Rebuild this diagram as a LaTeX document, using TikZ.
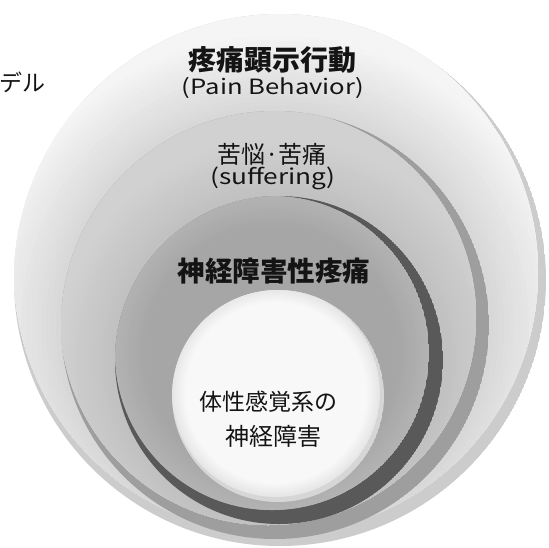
\documentclass[tikz,border=0pt]{standalone}
\usepackage{fontspec}
\setmainfont{Noto Sans CJK JP}
\newfontfamily\widelatin[FakeStretch=1.22]{Noto Sans CJK JP}
\definecolor{rimOuter}{gray}{0.80}
\definecolor{rimSuff}{gray}{0.62}
\definecolor{rimNeuro}{gray}{0.35}
\definecolor{rimInner}{gray}{0.84}
\definecolor{txt}{gray}{0.08}
\tikzset{
  lbl/.style={text=txt, inner sep=0pt, align=center},
}
\begin{document}
\begin{tikzpicture}[x=1pt,y=-1pt]
\useasboundingbox (0,0) rectangle (549,547);
\fill[white] (0,0) rectangle (549,547);
% outer circle: pain behavior
\begin{scope}
  \clip (280,280) circle[radius=266pt];
  \fill[rimOuter] (280,280) circle[radius=266pt];
  \clip (276,272) circle[radius=262pt];
  \fill[black!4] (276,272) circle[radius=262pt];
  \foreach \k in {0,...,16} {
    \pgfmathsetmacro{\rr}{214+80-5*\k}
    \pgfmathsetmacro{\gg}{4+0.75*\k}
    \fill[black!\gg] (275,325) circle[radius=\rr pt];
  }
\end{scope}
% suffering
\begin{scope}
  \clip (275,325) circle[radius=214pt];
  \fill[rimSuff] (275,325) circle[radius=214pt];
  \clip (268,317) circle[radius=208pt];
  \fill[black!18] (268,317) circle[radius=208pt];
  \foreach \k in {0,...,15} {
    \pgfmathsetmacro{\rr}{164+60-4*\k}
    \pgfmathsetmacro{\gg}{18+0.45*\k}
    \fill[black!\gg] (279,360) circle[radius=\rr pt];
  }
\end{scope}
% neuropathic pain
\begin{scope}
  \clip (279,360) circle[radius=164pt];
  \fill[rimNeuro] (279,360) circle[radius=164pt];
  \clip (272,353) circle[radius=157pt];
  \fill[black!30] (272,353) circle[radius=157pt];
  \foreach \k in {0,...,10} {
    \pgfmathsetmacro{\rr}{157-3*\k}
    \pgfmathsetmacro{\gg}{30+0.5*\k}
    \fill[black!\gg] (272,353) circle[radius=\rr pt];
  }
\end{scope}
% inner
\begin{scope}
  \clip (278,396) circle[radius=106pt];
  \fill[rimInner] (278,396) circle[radius=106pt];
  \clip (276,393) circle[radius=104pt];
  \fill[black!10] (276,393) circle[radius=104pt];
  \foreach \k in {0,...,8} {
    \pgfmathsetmacro{\rr}{103-1.5*\k}
    \pgfmathsetmacro{\gg}{9-0.8*\k}
    \fill[black!\gg] (276,393) circle[radius=\rr pt];
  }
\end{scope}
% texts
\node[lbl, anchor=west, font=\fontsize{23}{26}\selectfont] (model) at (-1,82) {デル};
\node[lbl, font=\fontsize{28}{32}\selectfont\bfseries] (pb) at (272,60) {疼痛顕示行動};
\node[lbl, font=\widelatin\fontsize{21}{24}\selectfont] (pbe) at (273,88) {(Pain Behavior)};
\node[lbl, font=\fontsize{24}{27}\selectfont] (suf) at (272,154) {苦悩·苦痛};
\node[lbl, font=\widelatin\fontsize{21.5}{24}\selectfont] (sufe) at (273,178) {(suffering)};
\node[lbl, font=\fontsize{27.5}{31}\selectfont\bfseries] (np) at (274,271) {神経障害性疼痛};
\node[lbl, font=\fontsize{23}{26}\selectfont] (in1) at (268,402) {体性感覚系の};
\node[lbl, font=\fontsize{24}{27}\selectfont] (in2) at (273,436) {神経障害};
\end{tikzpicture}
\end{document}
